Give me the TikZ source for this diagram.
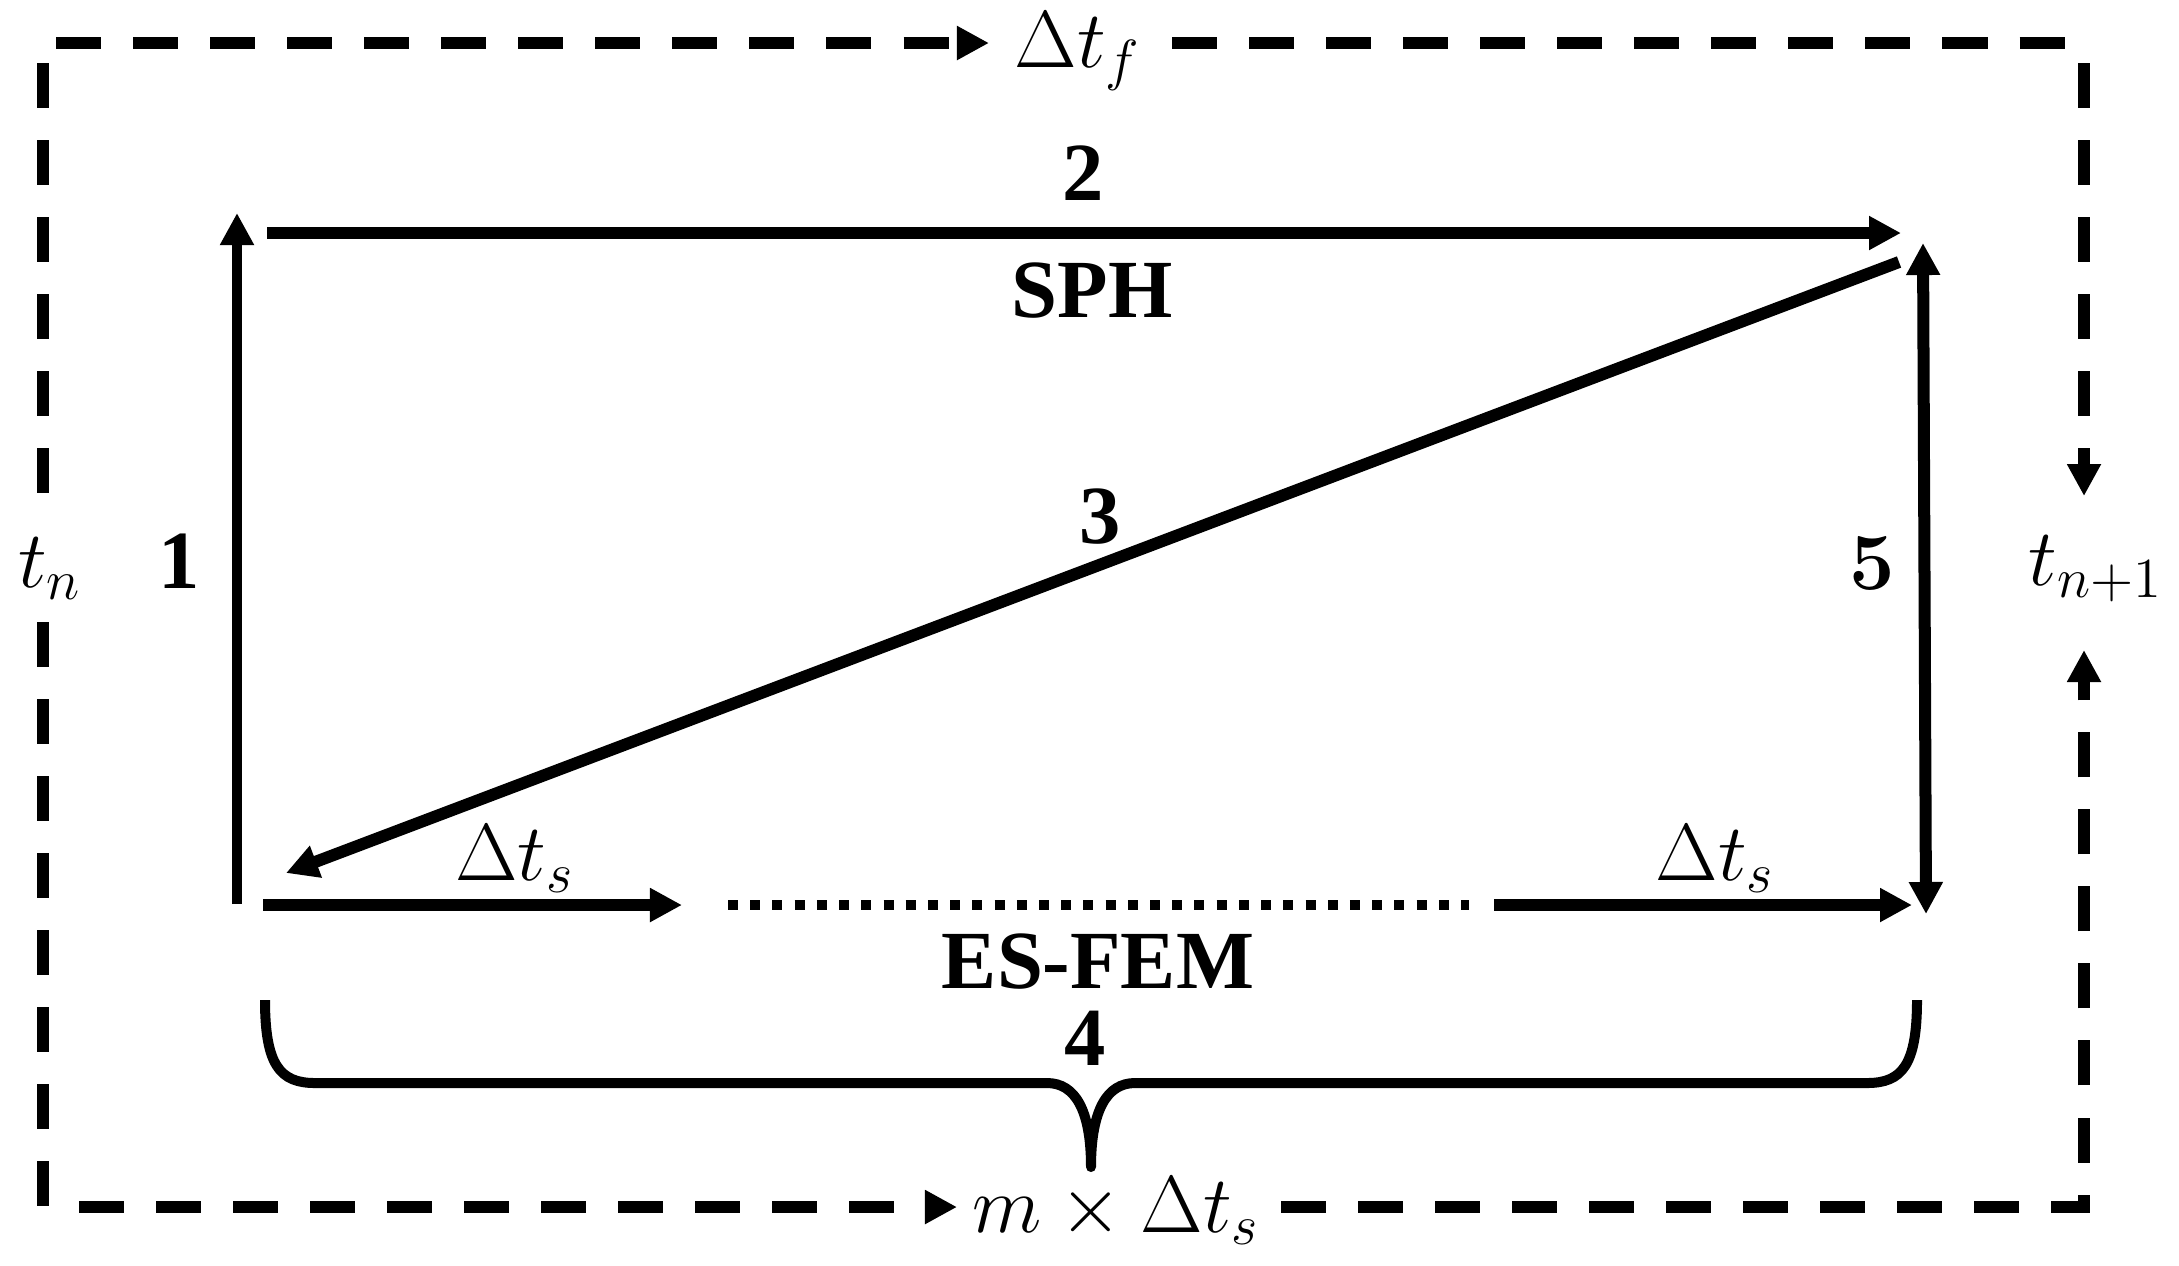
\RequirePackage{fix-cm}
\documentclass[tikz,border=0pt]{standalone}
\usepackage[no-math]{fontspec}
\setmainfont{Liberation Serif}
\usetikzlibrary{arrows.meta}
\begin{document}
\begin{tikzpicture}[x=0.01cm,y=-0.01cm,
  tip/.style={-{Triangle[length=0.32cm,width=0.32cm]}},
  dbltip/.style={{Triangle[length=0.32cm,width=0.32cm]}-{Triangle[length=0.32cm,width=0.32cm]}},
  outer/.style={line width=0.12cm, dash pattern=on 0.45cm off 0.32cm},
  thickln/.style={line width=0.12cm},
  thinln/.style={line width=0.1cm},
  dotln/.style={line width=0.1cm, dash pattern=on 0.1cm off 0.122cm},
  boldlbl/.style={font=\fontsize{23.5}{28}\selectfont\bfseries, inner sep=0pt, anchor=base},
  mathlbl/.style={font=\fontsize{23}{28}\selectfont, inner sep=0pt, anchor=base}]
\useasboundingbox (0,0) rectangle (2179,1265);

% outer frame coordinates
\coordinate (TL) at (56,43);
\coordinate (TA) at (989,43);
\coordinate (TR0) at (1172,43);
\coordinate (TR) at (2071,43);
\coordinate (L1) at (43,63);
\coordinate (L2) at (43,497);
\coordinate (L3) at (43,622);
\coordinate (L4) at (43,1210);
\coordinate (R1) at (2084,63);
\coordinate (R2) at (2084,496);
\coordinate (R3) at (2084,650);
\coordinate (BRc) at (2084,1207);
\coordinate (B1) at (79,1207);
\coordinate (B2) at (957,1207);
\coordinate (B3) at (1281,1207);

% inner coordinates
\coordinate (A1s) at (237,904);
\coordinate (A1e) at (237,213);
\coordinate (A2s) at (267,233);
\coordinate (A2e) at (1901,233);
\coordinate (A3s) at (1899,262);
\coordinate (A3e) at (286,873);
\coordinate (A5s) at (1923,243);
\coordinate (A5e) at (1926,914);
\coordinate (A4as) at (263,905);
\coordinate (A4ae) at (682,905);
\coordinate (D1) at (728,905);
\coordinate (D2) at (1469,905);
\coordinate (A4bs) at (1494,905);
\coordinate (A4be) at (1912,905);

% outer dashed frame
\draw[outer,tip] (TL) -- (TA);
\draw[outer] (TR0) -- (TR);
\draw[outer] (L1) -- (L2);
\draw[outer] (L3) -- (L4);
\draw[outer,tip] (R1) -- (R2);
\draw[outer,tip] (B3) -- (BRc) -- (R3);
\draw[outer,tip] (B1) -- (B2);

% inner arrows
\draw[thinln,tip] (A1s) -- (A1e);
\draw[thickln,tip] (A2s) -- (A2e);
\draw[thickln,tip] (A3s) -- (A3e);
\draw[thickln,dbltip] (A5s) -- (A5e);
\draw[thickln,tip] (A4as) -- (A4ae);
\draw[dotln] (D1) -- (D2);
\draw[thickln,tip] (A4bs) -- (A4be);

% brace
\draw[thinln,line join=round] (265,1000) .. controls (265,1065) and (280,1083) .. (315,1083)
  -- (1047,1083) .. controls (1075,1083) and (1091,1110) .. (1091,1167)
  .. controls (1091,1110) and (1107,1083) .. (1135,1083)
  -- (1867,1083) .. controls (1902,1083) and (1917,1065) .. (1917,1000);

% labels
\node[mathlbl] (dtf) at (1078,67) {$\Delta t_f$};
\node[mathlbl] (tn) at (50,587) {$t_n$};
\node[mathlbl] (tn1) at (2096,585) {$t_{n+1}$};
\node[mathlbl] (mdt) at (1116,1232) {$m\times\Delta t_s$};
\node[mathlbl] (dts1) at (515,880) {$\Delta t_s$};
\node[mathlbl] (dts2) at (1715,880) {$\Delta t_s$};
\node[boldlbl] (n1) at (179,588) {1};
\node[boldlbl] (n2) at (1083,200) {2};
\node[boldlbl] (sph) at (1092,317) {SPH};
\node[boldlbl] (n3) at (1100,543) {3};
\node[mathlbl] (n5) at (1872,589) {$\mathbf{5}$};
\node[boldlbl] (esfem) at (1098,988) {ES-FEM};
\node[boldlbl] (n4) at (1085,1065) {4};
\end{tikzpicture}
\end{document}
